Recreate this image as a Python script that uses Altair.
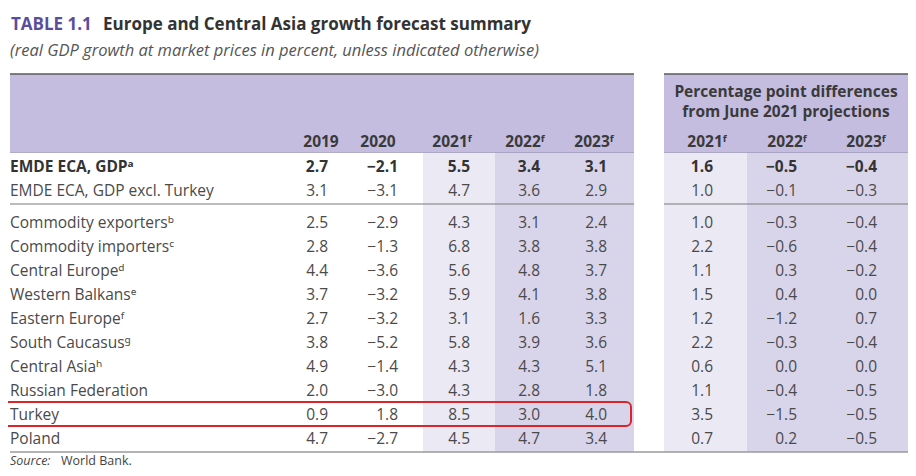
import altair as alt
import pandas as pd

# ---------------- data ----------------
regions = ["EMDE ECA, GDPᵃ", "EMDE ECA, GDP excl. Turkey", "Commodity exportersᵇ",
           "Commodity importersᶜ", "Central Europeᵈ", "Western Balkansᵉ",
           "Eastern Europeᶠ", "South Caucasusᵍ", "Central Asiaʰ",
           "Russian Federation", "Turkey", "Poland"]
v2019 = [2.7, 3.1, 2.5, 2.8, 4.4, 3.7, 2.7, 3.8, 4.9, 2.0, 0.9, 4.7]
v2020 = [-2.1, -3.1, -2.9, -1.3, -3.6, -3.2, -3.2, -5.2, -1.4, -3.0, 1.8, -2.7]
v2021 = [5.5, 4.7, 4.3, 6.8, 5.6, 5.9, 3.1, 5.8, 4.3, 4.3, 8.5, 4.5]
v2022 = [3.4, 3.6, 3.1, 3.8, 4.8, 4.1, 1.6, 3.9, 4.3, 2.8, 3.0, 4.7]
v2023 = [3.1, 2.9, 2.4, 3.8, 3.7, 3.8, 3.3, 3.6, 5.1, 1.8, 4.0, 3.4]
d2021 = [1.6, 1.0, 1.0, 2.2, 1.1, 1.5, 1.2, 2.2, 0.6, 1.1, 3.5, 0.7]
d2022 = [-0.5, -0.1, -0.3, -0.6, 0.3, 0.4, -1.2, -0.3, 0.0, -0.4, -1.5, 0.2]
d2023 = [-0.4, -0.3, -0.4, -0.4, -0.2, 0.0, 0.7, -0.4, 0.0, -0.5, -0.5, -0.5]
col_headers = ["2019", "2020", "2021ᶠ", "2022ᶠ", "2023ᶠ", "2021ᶠ", "2022ᶠ", "2023ᶠ"]
bold_rows = ["EMDE ECA, GDPᵃ"]
highlight_row = "Turkey"
title_tag = "TABLE 1.1"
title_text = "Europe and Central Asia growth forecast summary"
subtitle_text = "(real GDP growth at market prices in percent, unless indicated otherwise)"
diff_header = ["Percentage point differences", "from June 2021 projections"]
source_label = "Source:"
source_text = "World Bank."

# ---------------- layout ----------------
W, H = 900, 460
FONT = "'Open Sans', 'Noto Sans', sans-serif"
BODY = 15.5
row_y = [172, 196] + [228 + 24 * i for i in range(10)]
val_right = [328, 398, 470, 540, 607, 713, 797, 877]
head_center = [321, 378, 452, 525, 594, 707, 787, 866]
HEAD_Y = 146.5

xs = alt.Scale(domain=[8, 8 + W], nice=False, zero=False)
ys = alt.Scale(domain=[8, 8 + H], nice=False, zero=False, reverse=True)


def fmt(v):
    s = f"{v:.1f}"
    return s.replace("-", "\u2212")


series = [v2019, v2020, v2021, v2022, v2023, d2021, d2022, d2023]
cells = []
for r, name in enumerate(regions):
    b = name in bold_rows
    for c, s in enumerate(series):
        cells.append({"x": val_right[c], "y": row_y[r], "t": fmt(s[r]), "b": b})
cells = pd.DataFrame(cells)
labels = pd.DataFrame({"x": [10] * len(regions), "y": row_y, "t": regions,
                       "b": [n in bold_rows for n in regions]})
heads = pd.DataFrame({"x": head_center, "y": [HEAD_Y] * 8, "t": col_headers})

bands = pd.DataFrame([
    {"x": 10, "x2": 634, "y": 74, "y2": 152, "c": "#c4bddf"},
    {"x": 664, "x2": 910, "y": 74, "y2": 152, "c": "#c4bddf"},
    {"x": 423, "x2": 495, "y": 152, "y2": 452, "c": "#ebe9f4"},
    {"x": 495, "x2": 634, "y": 152, "y2": 452, "c": "#d8d4ea"},
    {"x": 664, "x2": 747, "y": 152, "y2": 452, "c": "#ebe9f4"},
    {"x": 747, "x2": 910, "y": 152, "y2": 452, "c": "#d8d4ea"},
])
rules = pd.DataFrame([
    {"x": 10, "x2": 634, "y": 74, "c": "#5a5a5a", "s": 1.6},
    {"x": 664, "x2": 910, "y": 74, "c": "#5a5a5a", "s": 1.6},
    {"x": 10, "x2": 634, "y": 152.5, "c": "#9d97b8", "s": 0.8},
    {"x": 664, "x2": 910, "y": 152.5, "c": "#9d97b8", "s": 0.8},
    {"x": 10, "x2": 634, "y": 204, "c": "#7a7a7a", "s": 1.2},
    {"x": 664, "x2": 910, "y": 204, "c": "#7a7a7a", "s": 1.2},
    {"x": 10, "x2": 910, "y": 452, "c": "#9a9a9a", "s": 1.4},
])
hi_idx = regions.index(highlight_row)
box = pd.DataFrame([{"x": 3, "x2": 631, "y": row_y[hi_idx] - 18, "y2": row_y[hi_idx] + 6}])


def X(f="x"):
    return alt.X(f"{f}:Q", scale=xs, axis=None)


def Y(f="y"):
    return alt.Y(f"{f}:Q", scale=ys, axis=None)


band_layer = alt.Chart(bands).mark_rect().encode(
    x=X(), x2="x2:Q", y=Y(), y2="y2:Q", color=alt.Color("c:N", scale=None))
rule_layer = alt.Chart(rules).mark_rule().encode(
    x=X(), x2="x2:Q", y=Y(), color=alt.Color("c:N", scale=None),
    strokeWidth=alt.StrokeWidth("s:Q", scale=None))
box_layer = alt.Chart(box).mark_rect(filled=False, stroke="#d8262c", strokeWidth=2,
                                     cornerRadius=5).encode(
    x=X(), x2="x2:Q", y=Y(), y2="y2:Q")


def text_layer(df, **kw):
    base = dict(font=FONT, baseline="alphabetic")
    base.update(kw)
    return alt.Chart(df).mark_text(**base).encode(x=X(), y=Y(), text="t:N")


val_reg = text_layer(cells[~cells.b], align="right", fontSize=BODY, color="#4a4a4a")
val_bold = text_layer(cells[cells.b], align="right", fontSize=BODY, fontWeight="bold", color="#333333")
lab_reg = text_layer(labels[~labels.b], align="left", fontSize=BODY, color="#4a4a4a")
lab_bold = text_layer(labels[labels.b], align="left", fontSize=BODY, fontWeight="bold", color="#333333")
head_layer = text_layer(heads, align="center", fontSize=BODY, fontWeight="bold", color="#3a3a3a")
diff_df = pd.DataFrame({"x": [786, 786], "y": [97, 117], "t": diff_header})
diff_layer = text_layer(diff_df, align="center", fontSize=15.5, fontWeight="bold", color="#3a3a3a")

tag_layer = text_layer(pd.DataFrame({"x": [11], "y": [29.5], "t": [title_tag]}),
                       align="left", fontSize=17, fontWeight="bold", color="#5b4d9d")
title_layer = text_layer(pd.DataFrame({"x": [103], "y": [29.5], "t": [title_text]}),
                         align="left", fontSize=17, fontWeight="bold", color="#333333")
sub_layer = text_layer(pd.DataFrame({"x": [10], "y": [56], "t": [subtitle_text]}),
                       align="left", fontSize=16.5, fontStyle="italic", color="#555555")
src1 = text_layer(pd.DataFrame({"x": [10], "y": [465], "t": [source_label]}),
                  align="left", fontSize=12.5, fontStyle="italic", color="#444444")
src2 = text_layer(pd.DataFrame({"x": [61], "y": [465], "t": [source_text]}),
                  align="left", fontSize=12.5, color="#444444")

chart = alt.layer(
    band_layer, rule_layer, box_layer,
    val_reg, val_bold, lab_reg, lab_bold, head_layer, diff_layer,
    tag_layer, title_layer, sub_layer, src1, src2,
).properties(
    width=W, height=H, background="white", padding=0,
    autosize=alt.AutoSizeParams(type="none"),
).configure_view(stroke=None)

chart.save("out.html", embed_options={"renderer": "svg", "actions": False})
